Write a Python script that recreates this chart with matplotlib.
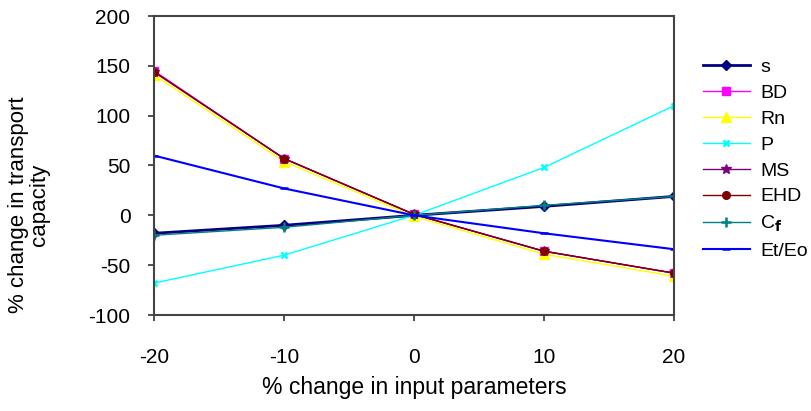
import matplotlib.pyplot as plt

plt.rcParams['font.family'] = ['Liberation Sans', 'DejaVu Sans']
plt.rcParams['axes.unicode_minus'] = False

x = [-20, -10, 0, 10, 20]
s = [-18, -10, 0, 9, 19]
BD = [145, 57, 1, -36, -58]
Rn = [141, 54, -1, -39, -61]
P = [-68, -40, 0, 48, 110]
MS = [144, 57, 1, -36, -58]
EHD = [144, 57, 1, -36, -58]
Cf = [-20, -12, 0, 10, 19]
EtEo = [60, 27, 0, -18, -34]

series = [
    ('s', s, '#000080', 'D', 2.0, 5),
    ('BD', BD, '#FF00FF', 's', 1.0, 5.5),
    ('Rn', Rn, '#FFFF00', '^', 1.0, 6.5),
    ('P', P, '#00FFFF', 'x', 1.0, 5),
    ('MS', MS, '#800080', '*', 1.0, 7),
    ('EHD', EHD, '#800000', 'o', 1.0, 5.5),
    ('C$_\\mathbf{f}$', Cf, '#008080', '+', 1.0, 7),
    ('Et/Eo', EtEo, '#0000FF', '_', 1.5, 6),
]

fig = plt.figure(figsize=(8.12, 4.11), dpi=100)
ax = fig.add_axes([154/812, 1-315/411, 520/812, 299/411])

for name, vals, col, mk, lw, ms in series:
    mew = 1.8 if mk in ('x', '+', '_') else 1
    ax.plot(x, vals, color=col, marker=mk, lw=lw, ms=ms, mew=mew, label=name)

ax.set_xlim(-20, 20)
ax.set_ylim(-100, 200)
ax.set_xticks([-20, -10, 0, 10, 20])
ax.set_yticks(range(-100, 201, 50))
ax.tick_params(labelsize=15, length=4, width=1.2, color='#333333', direction='out')
ax.tick_params(axis='y', pad=13)
ax.tick_params(axis='x', pad=20)
for sp in ax.spines.values():
    sp.set_linewidth(1.5)
    sp.set_color('#444444')

ax.set_xlabel('% change in input parameters', fontsize=16.5, labelpad=6)
ax.set_ylabel('% change in transport\ncapacity', fontsize=16, linespacing=1.0)
ax.yaxis.set_label_coords(-0.2, 0.368)

ax.legend(loc='upper left', bbox_to_anchor=(703/812, 1-58/411), bbox_transform=fig.transFigure,
          frameon=False, fontsize=14, handlelength=2.4, labelspacing=0.43, handletextpad=0.55,
          borderaxespad=0, borderpad=0)

plt.savefig('out.png', dpi=100)
